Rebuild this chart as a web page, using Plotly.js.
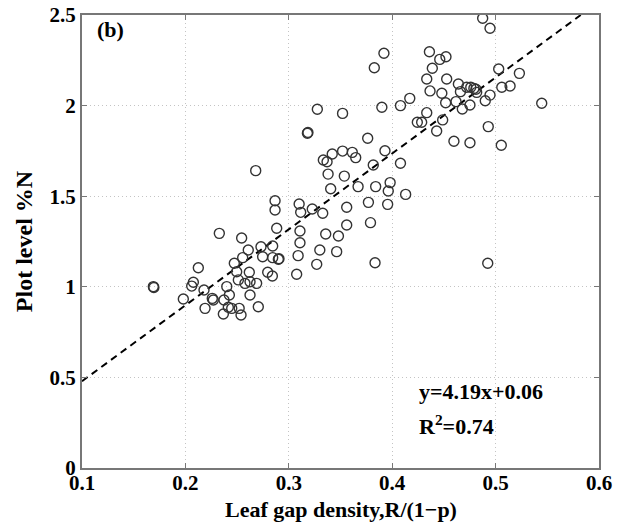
<!DOCTYPE html>
<html>
<head>
<meta charset="utf-8">
<script src="https://cdn.plot.ly/plotly-3.0.1.min.js"></script>
<style>html,body{margin:0;padding:0;background:#fff;}#chart{width:624px;height:523px;}</style>
</head>
<body>
<div id="chart"></div>
<script>
// Leaf gap density values (x) and plot-level %N (y)
const gapDensity = [
  0.3276,0.352,0.318,0.3185,0.3334,0.337,0.342,0.352,0.268,0.338,0.3537,0.3405,0.2867,0.2867,0.310,0.3115,
  0.3227,0.3328,0.356,0.356,0.2883,0.3108,0.2328,0.2544,0.3357,0.348,0.3108,0.330,0.3463,0.309,0.327,0.3076,
  0.2608,0.2731,0.2844,0.2747,0.2844,0.2899,0.2905,0.2554,0.2473,0.2125,0.2496,0.2618,0.2796,0.2841,0.2512,0.2576,
  0.2625,0.2689,0.169,0.1695,0.2077,0.2061,0.218,0.240,0.2425,0.2625,0.198,0.226,0.227,0.2373,0.219,0.2415,
  0.2448,0.252,0.2705,0.2367,0.2538,
  0.4875,0.4946,0.392,0.3827,0.436,0.446,0.452,0.4388,0.4334,0.4527,0.464,0.472,0.476,0.479,0.481,0.4366,
  0.448,0.466,0.4817,0.503,0.523,0.506,0.514,0.4946,0.490,0.4517,0.4617,0.4752,0.4678,0.5446,0.417,0.408,
  0.390,0.4334,0.4243,0.4285,0.4488,0.443,0.4929,0.4597,0.4752,0.5055,0.3763,0.3614,0.3647,0.393,0.408,0.3817,
  0.398,0.3962,0.384,0.367,0.413,0.377,0.3956,0.379,0.3834,0.4924
];
const plotN = [
  1.98,1.957,1.847,1.852,1.70,1.69,1.733,1.749,1.641,1.622,1.611,1.541,1.475,1.424,1.457,1.411,
  1.429,1.406,1.439,1.341,1.323,1.308,1.295,1.269,1.291,1.280,1.243,1.203,1.194,1.172,1.124,1.069,
  1.203,1.221,1.225,1.166,1.161,1.152,1.155,1.161,1.130,1.105,1.083,1.080,1.080,1.060,1.038,1.019,
  1.028,1.019,1.001,0.996,1.025,1.004,0.982,1.001,0.955,0.955,0.933,0.936,0.927,0.927,0.881,0.887,
  0.881,0.881,0.890,0.850,0.844,
  2.482,2.427,2.289,2.209,2.297,2.255,2.27,2.206,2.147,2.147,2.119,2.101,2.101,2.095,2.09,2.081,
  2.068,2.077,2.073,2.202,2.178,2.101,2.108,2.058,2.027,2.016,2.022,2.003,1.981,2.013,2.04,2.0,
  1.991,1.961,1.908,1.908,1.921,1.860,1.884,1.803,1.795,1.781,1.820,1.742,1.713,1.751,1.682,1.672,
  1.575,1.529,1.553,1.553,1.510,1.466,1.455,1.354,1.133,1.130
];
// Fit line y = 4.19x + 0.06
const slope = 4.19, intercept = 0.06;
const fitX = [0.1, (2.5 - intercept) / slope];
const fitY = fitX.map(v => slope * v + intercept);

const xTicks = [0.1,0.2,0.3,0.4,0.5,0.6];
const yTicks = [0,0.5,1,1.5,2,2.5];

const serif = '"Liberation Serif", "Times New Roman", serif';

const traces = [
  {x: fitX, y: fitY, mode: 'lines', type: 'scatter',
   line: {color: '#000', width: 2, dash: '7px,5px'}, hoverinfo: 'skip'},
  {x: gapDensity, y: plotN, mode: 'markers', type: 'scatter',
   marker: {symbol: 'circle-open', size: 10, color: '#333', line: {width: 1.4, color: '#333'}}}
];

const axisCommon = {
  showline: true, linecolor: '#777', linewidth: 2, mirror: 'ticks',
  ticks: 'inside', ticklen: 5, tickcolor: '#777', tickwidth: 1.2,
  showgrid: true, gridcolor: '#c4c4c4', griddash: '1px,3px', gridwidth: 1,
  zeroline: false, automargin: false,
  tickfont: {family: serif, size: 21, color: '#000', weight: 'bold'}
};

const layout = {
  width: 624, height: 523,
  margin: {l: 82, r: 25, t: 15, b: 55},
  paper_bgcolor: '#fff', plot_bgcolor: '#fff',
  showlegend: false,
  font: {family: serif, size: 20, color: '#000'},
  xaxis: Object.assign({}, axisCommon, {
    range: [0.1, 0.6], tickvals: xTicks, ticktext: xTicks.map(v => v.toFixed(1)),
    ticklabelstandoff: -5
  }),
  yaxis: Object.assign({}, axisCommon, {
    range: [0, 2.5], tickvals: yTicks, ticktext: yTicks.map(v => v === 0 ? '0' : (Number.isInteger(v) ? String(v) : v.toFixed(1))),
    title: {text: '<b>Plot level %N</b>', font: {family: serif, size: 24, color: '#000'}, standoff: 10}
  }),
  annotations: [
    {text: '<b>Leaf gap density,R/(1\u2212p)</b>', xref: 'paper', yref: 'paper', x: 0.5, y: -0.1225,
     xanchor: 'center', yanchor: 'bottom', borderpad: 0, showarrow: false, font: {family: serif, size: 22, color: '#000'}},
    {text: '<b>(b)</b>', xref: 'x', yref: 'y', x: 0.113, y: 2.42, xanchor: 'left', yanchor: 'middle',
     showarrow: false, font: {family: serif, size: 22, color: '#000'}},
    {text: '<b>y=4.19x+0.06</b>', xref: 'x', yref: 'y', x: 0.424, y: 0.42, xanchor: 'left', yanchor: 'middle',
     showarrow: false, font: {family: serif, size: 22, color: '#000'}},
    {text: '<b>R<sup>2</sup>=0.74</b>', xref: 'x', yref: 'y', x: 0.424, y: 0.235, xanchor: 'left', yanchor: 'middle',
     showarrow: false, font: {family: serif, size: 22, color: '#000'}}
  ]
};

Plotly.newPlot('chart', traces, layout, {displayModeBar: false, staticPlot: true});
</script>
</body>
</html>
